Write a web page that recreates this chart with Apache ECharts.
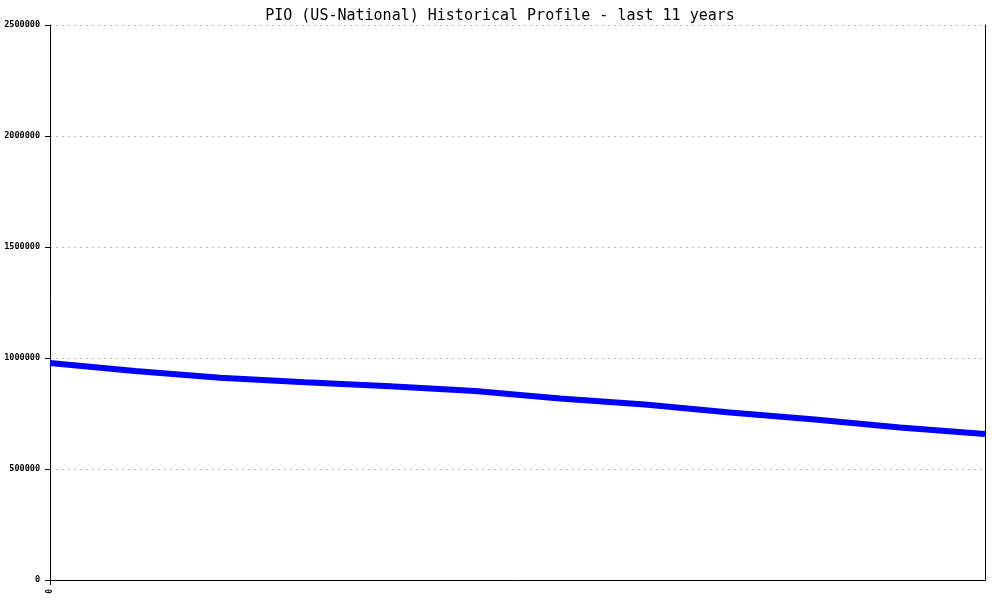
<!DOCTYPE html>
<html>
<head>
<meta charset="utf-8">
<script src="https://cdn.jsdelivr.net/npm/echarts@6/dist/echarts.min.js"></script>
<style>html,body{margin:0;padding:0;background:#fff}#c{width:1000px;height:600px}</style>
</head>
<body>
<div id="c"></div>
<script>
var titleText = 'PIO (US-National) Historical Profile - last 11 years';
var categories = ['0','1','2','3','4','5','6','7','8','9','10','11'];
var values = [977000, 941000, 911000, 891000, 873000, 851000, 818000, 791000, 755000, 723000, 687000, 658000];
var yTicks = [0, 500000, 1000000, 1500000, 2000000, 2500000];

var chart = echarts.init(document.getElementById('c'), null, {renderer: 'canvas'});
var font = '"DejaVu Sans Mono", "Liberation Mono", monospace';
chart.setOption({
  animation: false,
  backgroundColor: '#ffffff',
  title: {
    text: titleText, left: 'center', top: 4,
    textStyle: {fontFamily: font, fontSize: 15, fontWeight: 'normal', color: '#000'}
  },
  grid: {left: 50, right: 15, top: 25, bottom: 20, containLabel: false},
  xAxis: {
    type: 'category', data: categories, boundaryGap: false,
    axisLine: {show: true, lineStyle: {color: '#000', width: 1}},
    axisTick: {show: true, length: 5, interval: function(i){return i === 0;}, lineStyle: {color: '#000'}},
    axisLabel: {
      show: true, rotate: 90, margin: 9,
      interval: 0,
      formatter: function(v, i){ return i === 0 ? '0' : ''; },
      fontFamily: font, fontSize: 8, color: '#000', fontWeight: 'bold'
    },
    splitLine: {show: false}
  },
  yAxis: [{
    type: 'value', min: yTicks[0], max: yTicks[yTicks.length-1], interval: yTicks[1]-yTicks[0],
    axisLine: {show: true, lineStyle: {color: '#000', width: 1}},
    axisTick: {show: true, length: 5, lineStyle: {color: '#000'}},
    axisLabel: {fontFamily: font, fontSize: 8.5, color: '#000', fontWeight: 'bold', margin: 10,
      formatter: function(v){ return String(v); }},
    splitLine: {show: true, lineStyle: {color: '#bbbbbb', type: [2, 4], width: 1}}
  }, {
    type: 'value', position: 'right', min: yTicks[0], max: yTicks[yTicks.length-1],
    axisLine: {show: true, lineStyle: {color: '#000', width: 1}},
    axisTick: {show: false}, axisLabel: {show: false}, splitLine: {show: false}
  }],
  series: [{
    type: 'line', data: values, yAxisIndex: 0,
    showSymbol: false, symbol: 'none',
    lineStyle: {color: '#0000ff', width: 6},
    itemStyle: {color: '#0000ff'}
  }]
});
</script>
</body>
</html>
